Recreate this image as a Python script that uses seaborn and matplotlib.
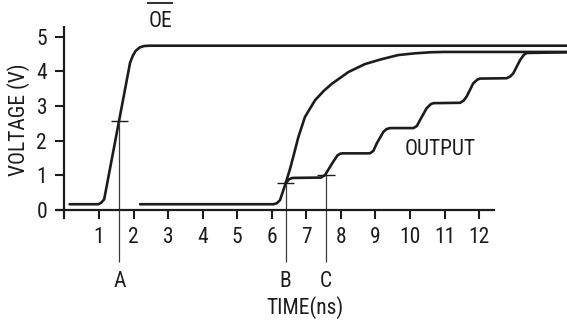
import matplotlib
matplotlib.use("Agg")
import matplotlib.pyplot as plt
from matplotlib import font_manager
import seaborn as sns

# OE signal (time in ns, volts)
oe_t = [0.15, 0.98, 1.06, 1.15, 1.90, 1.98, 2.06, 2.18, 2.30, 2.47, 14.6]
oe_v = [0.16, 0.16, 0.20, 0.30, 4.25, 4.45, 4.59, 4.69, 4.73, 4.74, 4.74]

# smooth output curve
sm_t = [2.19, 6.05, 6.15, 6.24, 6.40, 6.52, 6.62, 6.77, 6.96, 7.25, 7.50, 7.74,
        8.22, 8.70, 9.18, 9.66, 10.15, 10.60, 11.00, 14.6]
sm_v = [0.16, 0.16, 0.19, 0.28, 0.76, 1.15, 1.52, 2.10, 2.68, 3.16, 3.43, 3.64,
        3.98, 4.21, 4.35, 4.47, 4.52, 4.55, 4.56, 4.56]

# stepped output curve
st_t = [6.40, 6.50, 6.60, 7.42, 7.54, 7.78, 7.90, 7.98, 8.05,
        8.84, 8.94, 9.04, 9.23, 9.32, 9.42,
        10.10, 10.20, 10.29, 10.48, 10.60, 10.68,
        11.45, 11.55, 11.64, 11.83, 11.95, 12.03,
        12.80, 12.90, 12.99, 13.19, 13.30, 13.38, 14.6]
st_v = [0.76, 0.88, 0.92, 0.93, 1.00, 1.39, 1.57, 1.62, 1.63,
        1.63, 1.70, 1.92, 2.25, 2.33, 2.36,
        2.36, 2.42, 2.59, 2.93, 3.05, 3.08,
        3.09, 3.15, 3.27, 3.65, 3.76, 3.79,
        3.80, 3.85, 3.94, 4.33, 4.48, 4.53, 4.55]

# measurement markers
mk_names = ["A", "B", "C"]
mk_t = [1.59, 6.40, 7.57]
mk_v = [2.57, 0.76, 1.00]

x_ticks = list(range(1, 13))
y_ticks = list(range(0, 6))

sns.set_theme(style="white")

# pick a condensed face if one is installed
fonts = font_manager.fontManager.ttflist
names = {f.name for f in fonts}
stretch = "normal"
family = ["Liberation Sans", "DejaVu Sans"]
for cand in ["Liberation Sans Narrow", "Roboto Condensed", "Open Sans Condensed",
             "Noto Sans Condensed", "DejaVu Sans Condensed"]:
    if cand in names:
        family = [cand, "DejaVu Sans"]
        break
else:
    cond = [f.name for f in fonts if str(f.stretch) in ("condensed", "semi-condensed")]
    if cond:
        family = [cond[0], "DejaVu Sans"]
        stretch = "condensed"
plt.rcParams["font.family"] = family
plt.rcParams["font.stretch"] = stretch
fs = 15.5

fig = plt.figure(figsize=(5.67, 3.24), dpi=100)
ax = fig.add_axes([0, 0, 1, 1])
ax.set_xlim(-1.865, 14.545)
ax.set_ylim(-3.30, 6.06)

ink = "#1c1c1c"
lw = 1.9
sns.lineplot(x=oe_t, y=oe_v, ax=ax, color=ink, linewidth=lw, sort=False, estimator=None)
sns.lineplot(x=sm_t, y=sm_v, ax=ax, color=ink, linewidth=lw, sort=False, estimator=None)
sns.lineplot(x=st_t, y=st_v, ax=ax, color=ink, linewidth=lw, sort=False, estimator=None)

# marker lines with small horizontal crossbars
for name, t, v in zip(mk_names, mk_t, mk_v):
    ax.vlines(t, -1.5, v, color="#3a3a3a", linewidth=0.9)
    ax.hlines(v, t - 0.25, t + 0.25, color=ink, linewidth=1.0)
    ax.text(t, -2.06, name, ha="center", va="center", fontsize=fs, color=ink)

# axes through origin
for side in ["top", "right"]:
    ax.spines[side].set_visible(False)
ax.spines["left"].set_position(("data", 0))
ax.spines["bottom"].set_position(("data", 0))
ax.spines["left"].set_bounds(-0.25, 5.28)
ax.spines["bottom"].set_bounds(-0.22, 12.43)
for side in ["left", "bottom"]:
    ax.spines[side].set_color(ink)
    ax.spines[side].set_linewidth(1.6)

ax.set_xticks(x_ticks)
ax.set_yticks(y_ticks)
ax.tick_params(axis="both", direction="out", length=6.5, width=1.5, color=ink,
               labelsize=fs, labelcolor=ink)
ax.tick_params(axis="y", pad=6)
ax.tick_params(axis="x", pad=6)
ax.xaxis.set_ticks_position("bottom")
ax.yaxis.set_ticks_position("left")

ax.text(-1.33, 2.59, "VOLTAGE (V)", rotation=90, ha="center", va="center",
        fontsize=fs, color=ink)
ax.text(6.96, -2.81, "TIME(ns)", ha="center", va="center", fontsize=fs, color=ink)
ax.text(10.87, 1.74, "OUTPUT", ha="center", va="center", fontsize=fs, color=ink)
ax.text(2.78, 5.45, "OE", ha="center", va="center", fontsize=fs, color=ink)
ax.hlines(5.97, 2.39, 3.14, color=ink, linewidth=1.3)

fig.savefig("out.png", dpi=100)
